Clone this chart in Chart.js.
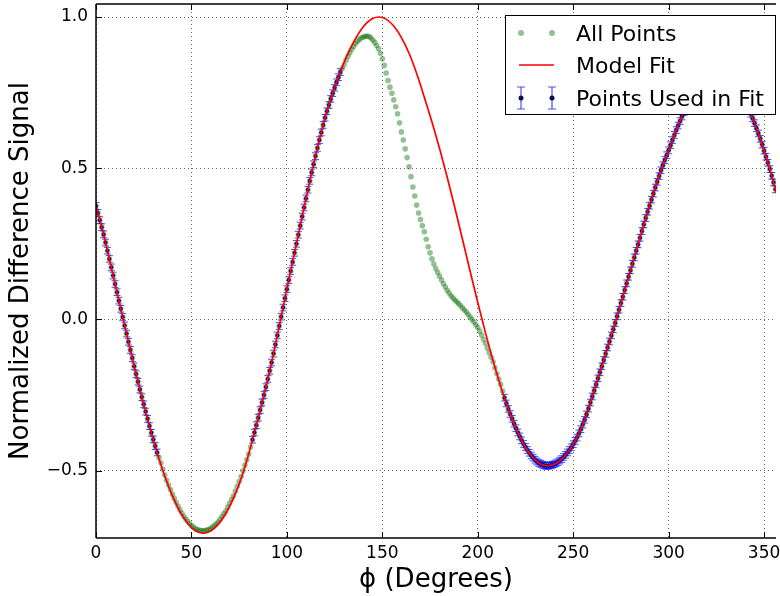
<!DOCTYPE html>
<html>
<head>
<meta charset="utf-8">
<script src="https://cdn.jsdelivr.net/npm/chart.js@4.4.1/dist/chart.umd.min.js"></script>
<style>
  html, body { margin: 0; padding: 0; background: #fff; }
  #wrap { width: 780px; height: 596px; }
</style>
</head>
<body>
<div id="wrap"><canvas id="c" width="780" height="596"></canvas></div>
<script>
// ---- data ----
const phi = [
  0,1,2,3,4,5,6,7,8,9,10,11,12,13,14,15,16,17,18,19,
  20,21,22,23,24,25,26,27,28,29,30,31,32,33,34,35,36,37,38,39,
  40,41,42,43,44,45,46,47,48,49,50,51,52,53,54,55,56,57,58,59,
  60,61,62,63,64,65,66,67,68,69,70,71,72,73,74,75,76,77,78,79,
  80,81,82,83,84,85,86,87,88,89,90,91,92,93,94,95,96,97,98,99,
  100,101,102,103,104,105,106,107,108,109,110,111,112,113,114,115,116,117,118,119,
  120,121,122,123,124,125,126,127,128,129,130,131,132,133,134,135,136,137,138,139,
  140,141,142,143,144,145,146,147,148,149,150,151,152,153,154,155,156,157,158,159,
  160,161,162,163,164,165,166,167,168,169,170,171,172,173,174,175,176,177,178,179,
  180,181,182,183,184,185,186,187,188,189,190,191,192,193,194,195,196,197,198,199,
  200,201,202,203,204,205,206,207,208,209,210,211,212,213,214,215,216,217,218,219,
  220,221,222,223,224,225,226,227,228,229,230,231,232,233,234,235,236,237,238,239,
  240,241,242,243,244,245,246,247,248,249,250,251,252,253,254,255,256,257,258,259,
  260,261,262,263,264,265,266,267,268,269,270,271,272,273,274,275,276,277,278,279,
  280,281,282,283,284,285,286,287,288,289,290,291,292,293,294,295,296,297,298,299,
  300,301,302,303,304,305,306,307,308,309,310,311,312,313,314,315,316,317,318,319,
  320,321,322,323,324,325,326,327,328,329,330,331,332,333,334,335,336,337,338,339,
  340,341,342,343,344,345,346,347,348,349,350,351,352,353,354,355,356];

const allPoints = [
  0.375,0.352,0.328,0.305,0.281,0.254,0.227,0.200,0.172,0.145,0.117,0.090,0.062,0.035,0.008,-0.020,-0.047,-0.074,-0.101,-0.128,
  -0.155,-0.181,-0.206,-0.232,-0.257,-0.281,-0.305,-0.329,-0.353,-0.375,-0.397,-0.419,-0.440,-0.458,-0.475,-0.495,-0.515,-0.532,-0.548,-0.563,
  -0.578,-0.592,-0.606,-0.618,-0.630,-0.641,-0.652,-0.660,-0.668,-0.675,-0.682,-0.687,-0.692,-0.695,-0.697,-0.698,-0.699,-0.698,-0.697,-0.695,
  -0.692,-0.687,-0.682,-0.676,-0.670,-0.661,-0.652,-0.643,-0.634,-0.621,-0.608,-0.596,-0.584,-0.568,-0.552,-0.536,-0.520,-0.501,-0.482,-0.464,
  -0.445,-0.422,-0.398,-0.374,-0.350,-0.325,-0.300,-0.275,-0.250,-0.224,-0.197,-0.170,-0.143,-0.113,-0.083,-0.053,-0.022,0.009,0.039,0.070,
  0.100,0.130,0.160,0.190,0.220,0.250,0.280,0.310,0.340,0.370,0.400,0.429,0.458,0.486,0.513,0.540,0.567,0.593,0.618,0.643,
  0.667,0.688,0.709,0.729,0.748,0.766,0.784,0.801,0.818,0.830,0.842,0.857,0.870,0.882,0.893,0.903,0.912,0.920,0.926,0.931,
  0.934,0.936,0.937,0.935,0.931,0.924,0.916,0.906,0.895,0.880,0.862,0.840,0.815,0.790,0.768,0.748,0.726,0.703,0.680,0.650,
  0.620,0.593,0.564,0.535,0.505,0.472,0.438,0.408,0.378,0.352,0.330,0.310,0.290,0.265,0.240,0.220,0.200,0.183,0.168,0.155,
  0.143,0.130,0.118,0.107,0.096,0.087,0.078,0.071,0.064,0.058,0.052,0.045,0.038,0.031,0.024,0.016,0.008,0.000,-0.009,-0.018,
  -0.027,-0.039,-0.052,-0.066,-0.080,-0.095,-0.110,-0.125,-0.140,-0.160,-0.180,-0.197,-0.215,-0.237,-0.259,-0.278,-0.296,-0.313,-0.329,-0.345,
  -0.360,-0.374,-0.387,-0.400,-0.412,-0.422,-0.432,-0.441,-0.450,-0.457,-0.464,-0.470,-0.475,-0.478,-0.481,-0.483,-0.484,-0.484,-0.483,-0.481,
  -0.479,-0.476,-0.472,-0.467,-0.462,-0.455,-0.448,-0.440,-0.432,-0.423,-0.413,-0.402,-0.391,-0.377,-0.363,-0.348,-0.332,-0.314,-0.295,-0.275,
  -0.255,-0.235,-0.215,-0.195,-0.175,-0.155,-0.134,-0.114,-0.093,-0.073,-0.053,-0.033,-0.012,0.010,0.032,0.054,0.075,0.097,0.119,0.141,
  0.162,0.184,0.205,0.227,0.248,0.270,0.292,0.314,0.335,0.356,0.376,0.396,0.416,0.436,0.455,0.474,0.493,0.510,0.527,0.543,
  0.559,0.576,0.593,0.610,0.626,0.641,0.656,0.671,0.685,0.698,0.710,0.722,0.733,0.743,0.753,0.762,0.771,0.778,0.785,0.791,
  0.796,0.800,0.803,0.806,0.808,0.809,0.810,0.809,0.808,0.805,0.802,0.798,0.793,0.787,0.780,0.772,0.764,0.754,0.744,0.733,
  0.721,0.708,0.694,0.680,0.665,0.649,0.632,0.615,0.597,0.578,0.558,0.538,0.518,0.497,0.475,0.453,0.430];

// phi ranges whose points were used in the fit
const fitRanges = [[0, 32], [82, 128], [214, 356]];
const fitError = 0.011;

const modelPhi = [0,4,8,12,16,20,24,28,32,36,40,44,48,52,56,60,64,68,72,76,
  80,84,88,92,96,100,104,108,112,116,120,124,128,132,136,140,144,148,152,156,
  160,164,168,172,176,180,184,188,192,196,200,204,208,212,216,220,224,228,232,236,
  240,244,248,252,256,260,264,268,272,276,280,284,288,292,296,300,304,308,312,316,
  320,324,328,332,336,340,344,348,352,356,360];
const modelFit = [
  0.375,0.281,0.172,0.062,-0.047,-0.155,-0.257,-0.353,-0.440,-0.518,
  -0.583,-0.636,-0.674,-0.698,-0.707,-0.700,-0.678,-0.642,-0.591,-0.527,
  -0.445,-0.350,-0.250,-0.143,-0.022,0.100,0.220,0.340,0.458,0.567,
  0.667,0.748,0.818,0.880,0.929,0.968,0.992,1.000,0.993,0.970,
  0.932,0.880,0.813,0.735,0.653,0.565,0.470,0.369,0.265,0.159,
  0.056,-0.043,-0.136,-0.221,-0.296,-0.360,-0.412,-0.450,-0.475,-0.484,
  -0.479,-0.462,-0.432,-0.391,-0.332,-0.255,-0.175,-0.093,-0.012,0.075,
  0.162,0.248,0.335,0.416,0.493,0.559,0.626,0.685,0.733,0.771,
  0.796,0.808,0.808,0.793,0.764,0.721,0.665,0.597,0.518,0.430,0.335];

const xTicks = [0, 50, 100, 150, 200, 250, 300, 350];
const yTicks = [-0.5, 0.0, 0.5, 1.0];
const labels = { all: 'All Points', model: 'Model Fit', used: 'Points Used in Fit' };
const xTitle = 'ϕ (Degrees)';
const yTitle = 'Normalized Difference Signal';

// ---- build datasets ----
const allData = phi.map((p, i) => ({ x: p, y: allPoints[i] }));
const usedData = allData.filter(d => fitRanges.some(r => d.x >= r[0] && d.x <= r[1]));
const modelData = modelPhi.map((p, i) => ({ x: p, y: modelFit[i] }));

Chart.defaults.font.family = 'DejaVu Sans';
Chart.defaults.color = '#000';

const GREEN = 'rgba(0,105,0,0.42)';
const NAVY = '#0b0b50';
const BLUE = 'rgba(0,0,255,0.7)';
const RED = '#ff0000';

const errorBarPlugin = {
  id: 'errorBars',
  afterDatasetDraw(chart, args) {
    if (args.index !== 1) return;
    const ctx = chart.ctx, ys = chart.scales.y, xs = chart.scales.x;
    const area = chart.chartArea;
    ctx.save();
    ctx.beginPath();
    ctx.rect(area.left, area.top, area.right - area.left, area.bottom - area.top);
    ctx.clip();
    ctx.strokeStyle = BLUE;
    ctx.lineWidth = 1;
    usedData.forEach(d => {
      const px = xs.getPixelForValue(d.x);
      const y1 = ys.getPixelForValue(d.y + fitError);
      const y2 = ys.getPixelForValue(d.y - fitError);
      ctx.beginPath();
      ctx.moveTo(px, y1); ctx.lineTo(px, y2);
      ctx.moveTo(px - 3.5, y1); ctx.lineTo(px + 3.5, y1);
      ctx.moveTo(px - 3.5, y2); ctx.lineTo(px + 3.5, y2);
      ctx.stroke();
    });
    ctx.restore();
  }
};

const framePlugin = {
  id: 'frame',
  afterDatasetsDraw(chart) {
    const ctx = chart.ctx, a = chart.chartArea;
    const xs = chart.scales.x, ys = chart.scales.y;
    ctx.save();
    ctx.strokeStyle = '#000';
    ctx.lineWidth = 1.5;
    ctx.beginPath();
    ctx.moveTo(a.left, a.top); ctx.lineTo(a.right, a.top);
    ctx.moveTo(a.left, a.top); ctx.lineTo(a.left, a.bottom);
    ctx.moveTo(a.left, a.bottom); ctx.lineTo(a.right, a.bottom);
    ctx.stroke();
    ctx.lineWidth = 1;
    ctx.beginPath();
    xTicks.forEach(t => {
      const px = Math.round(xs.getPixelForValue(t)) + 0.5;
      ctx.moveTo(px, a.bottom); ctx.lineTo(px, a.bottom - 6);
      ctx.moveTo(px, a.top); ctx.lineTo(px, a.top + 6);
    });
    yTicks.forEach(t => {
      const py = Math.round(ys.getPixelForValue(t)) + 0.5;
      ctx.moveTo(a.left, py); ctx.lineTo(a.left + 6, py);
    });
    ctx.stroke();
    ctx.restore();
  }
};

const legendPlugin = {
  id: 'boxLegend',
  afterDraw(chart) {
    const ctx = chart.ctx;
    const x0 = 505, y0 = 15, w = 270, h = 99;
    ctx.save();
    ctx.fillStyle = '#fff';
    ctx.fillRect(x0, y0, w, h);
    ctx.strokeStyle = '#000';
    ctx.lineWidth = 1;
    ctx.strokeRect(x0 + 0.5, y0 + 0.5, w, h);
    const rows = [33, 65, 98];
    const mx = [521, 552];
    ctx.fillStyle = GREEN;
    mx.forEach(x => { ctx.beginPath(); ctx.arc(x, rows[0], 3, 0, Math.PI * 2); ctx.fill(); });
    ctx.strokeStyle = RED; ctx.lineWidth = 1.5;
    ctx.beginPath(); ctx.moveTo(519, rows[1]); ctx.lineTo(554, rows[1]); ctx.stroke();
    ctx.strokeStyle = BLUE; ctx.lineWidth = 1.2;
    mx.forEach(x => {
      ctx.beginPath();
      ctx.moveTo(x, rows[2] - 11); ctx.lineTo(x, rows[2] + 11);
      ctx.moveTo(x - 4, rows[2] - 11); ctx.lineTo(x + 4, rows[2] - 11);
      ctx.moveTo(x - 4, rows[2] + 11); ctx.lineTo(x + 4, rows[2] + 11);
      ctx.stroke();
      ctx.fillStyle = NAVY;
      ctx.beginPath(); ctx.arc(x, rows[2], 2.5, 0, Math.PI * 2); ctx.fill();
    });
    ctx.fillStyle = '#000';
    ctx.font = '22px "DejaVu Sans"';
    ctx.textBaseline = 'middle';
    ctx.textAlign = 'left';
    const ds = chart.data.datasets;
    ctx.fillText(ds[2].label, 576, rows[0] + 2);
    ctx.fillText(ds[0].label, 576, rows[1] + 2);
    ctx.fillText(ds[1].label, 576, rows[2] + 2);
    ctx.restore();
  }
};

const fmtY = v => (v < 0 ? '\u2212' : '') + Math.abs(v).toFixed(1);

new Chart(document.getElementById('c'), {
  type: 'scatter',
  data: {
    datasets: [
      {
        type: 'line', label: labels.model, data: modelData, order: 0,
        borderColor: RED, borderWidth: 1.7, pointRadius: 0, fill: false,
        cubicInterpolationMode: 'monotone', showLine: true
      },
      {
        label: labels.used, data: usedData, order: 1,
        pointRadius: 2, pointBackgroundColor: NAVY, pointBorderWidth: 0, showLine: false
      },
      {
        label: labels.all, data: allData, order: 2,
        pointRadius: 2.8, pointBackgroundColor: GREEN, pointBorderWidth: 0, showLine: false
      }
    ]
  },
  options: {
    responsive: false,
    animation: false,
    devicePixelRatio: 1,
    layout: { padding: { top: 4, right: 0, left: 0, bottom: 0 } },
    plugins: { legend: { display: false }, tooltip: { enabled: false } },
    scales: {
      x: {
        type: 'linear', min: 0, max: 356.25,
        afterFit(s) { s.height = 58; s.paddingLeft = 0; s.paddingRight = 0; },
        afterBuildTicks(s) { s.ticks = xTicks.map(v => ({ value: v })); },
        ticks: { includeBounds: false, autoSkip: false, maxRotation: 0, padding: 5,
                 font: { size: 17 }, color: '#000', callback: v => String(v) },
        grid: { color: 'rgba(0,0,0,0.6)', lineWidth: 1, drawTicks: false },
        border: { display: false, dash: [1, 3] },
        title: { display: true, text: xTitle, font: { size: 26 }, color: '#000', padding: { top: 0, bottom: 0 } }
      },
      y: {
        type: 'linear', min: -0.723, max: 1.043,
        afterFit(s) { s.width = 96; s.paddingTop = 0; s.paddingBottom = 0; },
        afterBuildTicks(s) { s.ticks = yTicks.map(v => ({ value: v })); },
        ticks: { includeBounds: false, padding: 8, font: { size: 17 }, color: '#000', callback: v => fmtY(v) },
        grid: { color: 'rgba(0,0,0,0.6)', lineWidth: 1, drawTicks: false },
        border: { display: false, dash: [1, 3] },
        title: { display: true, text: yTitle, font: { size: 26 }, color: '#000', padding: { top: 6, bottom: 0 } }
      }
    }
  },
  plugins: [errorBarPlugin, framePlugin, legendPlugin]
});
</script>
</body>
</html>
